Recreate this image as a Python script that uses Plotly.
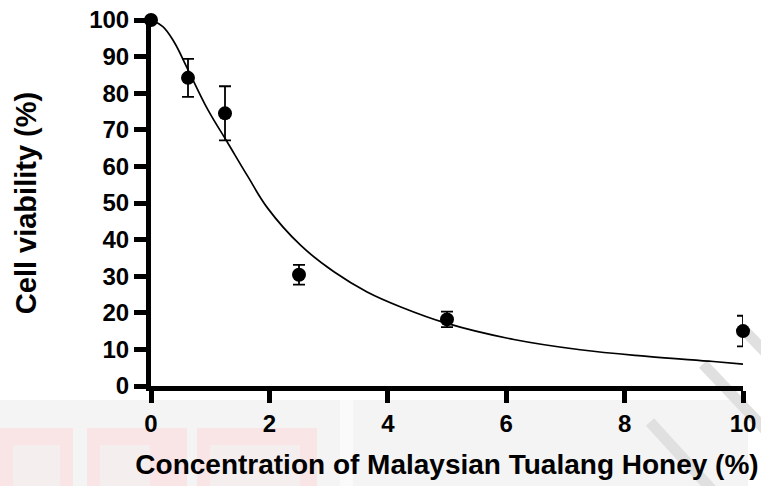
import plotly.graph_objects as go

# Measured viability (mean ± SD) at each honey concentration
concentration = [0, 0.625, 1.25, 2.5, 5, 10]
viability = [100, 84.2, 74.5, 30.4, 18.2, 15.0]
viability_sd = [0, 5.2, 7.4, 2.7, 2.1, 4.2]

# Dose-response fit curve, sampled along its path
fit_x = [0, 0.2, 0.39, 0.62, 0.96, 1.29, 1.63, 1.97, 2.53, 3.09, 3.65, 4.22, 5.0, 6.13, 7.25, 8.38, 9.5, 10]
fit_y = [100, 98.2, 94.0, 86.6, 75.5, 66.6, 57.4, 48.6, 38.4, 31.2, 25.7, 21.6, 17.1, 12.7, 9.9, 8.1, 6.7, 6.0]

x_ticks = [0, 2, 4, 6, 8, 10]
y_ticks = list(range(0, 101, 10))

FONT = "Arial, Liberation Sans, Helvetica, sans-serif"

fig = go.Figure()

fig.add_trace(go.Scatter(
    x=fit_x, y=fit_y, mode="lines",
    line=dict(color="black", width=1.7, shape="spline", smoothing=1.1),
    hoverinfo="skip", showlegend=False, cliponaxis=False,
))

fig.add_trace(go.Scatter(
    x=concentration, y=viability, mode="markers",
    marker=dict(color="black", size=14, symbol="circle"),
    error_y=dict(type="data", array=viability_sd, visible=True,
                 color="black", thickness=1.8, width=6),
    showlegend=False, cliponaxis=False,
))

# faint watermark behind the lower part of the page
L, R, T, B = 151, 18, 20, 100
W, H = 761, 486
pw, ph = W - L - R, H - T - B


def px(x):
    return (x - L) / pw


def py(y):
    return (H - B - y) / ph


shapes = [
    dict(type="rect", xref="paper", yref="paper", layer="below",
         x0=px(0), x1=px(748), y0=py(486), y1=py(400),
         fillcolor="#f4f4f4", line=dict(width=0)),
    dict(type="rect", xref="paper", yref="paper", layer="below",
         x0=px(340), x1=px(353), y0=py(486), y1=py(400),
         fillcolor="#fafafa", line=dict(width=0)),
]
pink = "#f9e5e5"
inner = "#f5eeee"
for (a, b, ia, ib, itop) in [(0, 73, 13, 60, 445), (87, 187, 100, 150, 445), (197, 317, 210, 300, 445)]:
    shapes.append(dict(type="rect", xref="paper", yref="paper", layer="below",
                       x0=px(a), x1=px(b), y0=py(486), y1=py(428),
                       fillcolor=pink, line=dict(width=0)))
    shapes.append(dict(type="rect", xref="paper", yref="paper", layer="below",
                       x0=px(ia), x1=px(ib), y0=py(486), y1=py(itop),
                       fillcolor=inner, line=dict(width=0)))
for (xa, ya, xb, yb) in [(742, 328, 775, 362), (703, 364, 775, 440), (650, 422, 712, 490)]:
    shapes.append(dict(type="line", xref="paper", yref="paper", layer="below",
                       x0=px(xa), y0=py(ya), x1=px(xb), y1=py(yb),
                       line=dict(color="#e0e0e0", width=11)))

axis_common = dict(
    showline=True, linecolor="black", linewidth=5,
    ticks="outside", ticklen=12, tickwidth=5, tickcolor="black",
    showgrid=False, zeroline=False,
    tickfont=dict(family=FONT, size=24, color="black", weight="bold"),
)

fig.update_layout(
    width=W, height=H,
    margin=dict(l=L, r=R, t=T, b=B, autoexpand=False),
    paper_bgcolor="white", plot_bgcolor="rgba(0,0,0,0)",
    shapes=shapes,
    xaxis=dict(range=[0, 10], tickvals=x_ticks, **axis_common,
               title=dict(text="Concentration of Malaysian Tualang Honey (%)",
                          font=dict(family=FONT, size=28, color="black", weight="bold"),
                          standoff=20)),
    yaxis=dict(range=[0, 100], tickvals=y_ticks, **axis_common,
               title=dict(text="Cell viability (%)",
                          font=dict(family=FONT, size=29, color="black", weight="bold"),
                          standoff=46)),
)

fig.write_html("out.html")
